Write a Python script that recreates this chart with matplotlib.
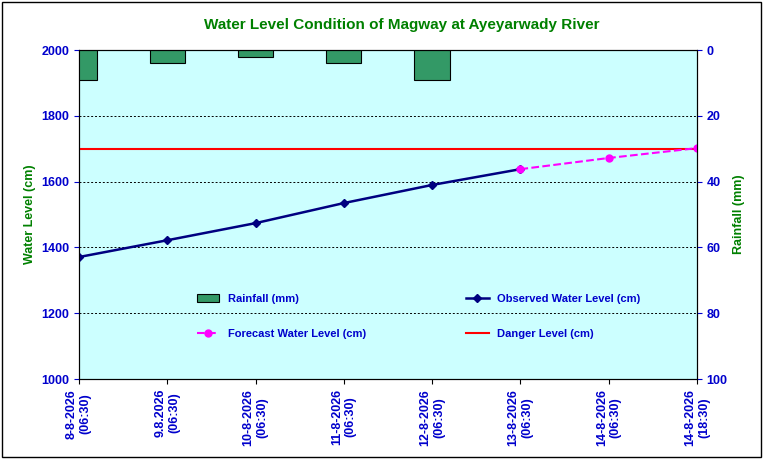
import matplotlib
matplotlib.use("Agg")
import matplotlib.pyplot as plt
from matplotlib.patches import Rectangle

labels = ["8-8-2026\n(06:30)", "9.8.2026\n(06:30)", "10-8-2026\n(06:30)", "11-8-2026\n(06:30)",
          "12-8-2026\n(06:30)", "13-8-2026\n(06:30)", "14-8-2026\n(06:30)", "14-8-2026\n(18:30)"]
rain = [9, 4, 2, 4, 9]
observed = [1371, 1422, 1474, 1535, 1590, 1638]
forecast = [1638, 1672, 1702]
danger = 1700

plt.rcParams['font.family'] = ['Liberation Sans', 'DejaVu Sans']
fig = plt.figure(figsize=(7.63, 4.59), dpi=100)
fig.patches.append(Rectangle((0.002, 0.004), 0.996, 0.992, transform=fig.transFigure,
                             fill=False, edgecolor='black', lw=1))
ax = fig.add_axes([0.1035, 0.174, 0.81, 0.717])
ax.set_facecolor('#ccffff')
x = list(range(len(labels)))
ax.set_xlim(0, 7)
ax.set_ylim(1000, 2000)
ax.set_yticks(range(1000, 2001, 200))
for yv in range(1200, 2001, 200):
    ax.axhline(yv, color='black', ls=(0, (2, 2)), lw=0.7, zorder=1)
ax.axhline(danger, color='red', lw=1.5, zorder=3, label='Danger Level (cm)')
ax.plot(x[:6], observed, color='#000080', marker='D', ms=4, lw=1.8, zorder=4,
        label='Observed Water Level (cm)')
ax.plot(x[5:8], forecast, color='#ff00ff', marker='o', ms=5, lw=1.5, ls='--', zorder=4,
        label='Forecast Water Level (cm)')
ax.set_xticks(x)
ax.set_xticklabels(labels, rotation=90, color='#0000cc', fontsize=9, fontweight='bold')
ax.tick_params(axis='y', colors='#0000cc', labelsize=9)
for t in ax.get_yticklabels():
    t.set_fontweight('bold')
ax.set_ylabel('Water Level (cm)', color='#008000', fontsize=9, fontweight='bold')

ax2 = ax.twinx()
ax2.set_ylim(100, 0)
ax2.bar(x[:5], rain, width=0.4, color='#339966', edgecolor='black', lw=0.8, zorder=2,
        label='Rainfall (mm)')
ax2.set_yticks(range(0, 101, 20))
ax2.tick_params(axis='y', colors='#0000cc', labelsize=9)
for t in ax2.get_yticklabels():
    t.set_fontweight('bold')
ax2.set_ylabel('Rainfall (mm)', color='#008000', fontsize=9, fontweight='bold')
ax2.set_xlim(0, 7)

h1, l1 = ax.get_legend_handles_labels()
h2, l2 = ax2.get_legend_handles_labels()
hd = dict(zip(l1 + l2, h1 + h2))
order = ['Rainfall (mm)', 'Forecast Water Level (cm)', 'Observed Water Level (cm)', 'Danger Level (cm)']
leg = ax2.legend([hd[k] for k in order], order, ncol=2, loc='center', bbox_to_anchor=(0.55, 0.19),
                 frameon=False, columnspacing=9, labelspacing=2.3,
                 prop={'weight': 'bold', 'size': 8})
for t in leg.get_texts():
    t.set_color('#0000cc')

fig.text(0.527, 0.945, 'Water Level Condition of Magway at Ayeyarwady River', ha='center',
         va='center', color='#008000', fontsize=11, fontweight='bold')
fig.savefig('out.png', dpi=100)
